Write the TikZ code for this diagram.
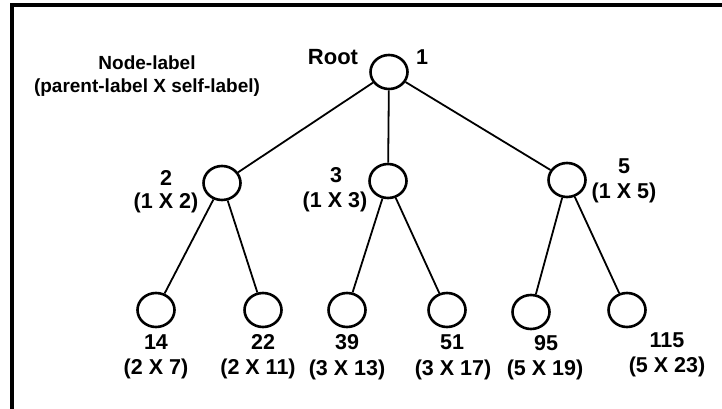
\documentclass[tikz,border=0pt]{standalone}
\usepackage{fontspec}
\setmainfont{Liberation Sans}
\usetikzlibrary{shapes.geometric}

\begin{document}
\begin{tikzpicture}[x=1pt, y={(0pt,-1pt)},
        vert/.style={draw, ellipse, line width=2.6pt, minimum width=37pt, minimum height=34pt, inner sep=0pt},
        lbl/.style={font=\fontsize{21.5}{23}\selectfont\bfseries, inner sep=0pt},
        legend/.style={font=\fontsize{19}{21}\selectfont\bfseries, inner sep=0pt},
        link/.style={line width=1.8pt}]
        % Размер и рамка
        \useasboundingbox (0,0) rectangle (722,409);
        \draw[line width=3.5pt] (12,409) -- (12,5) -- (722,5);

        % Легенда
        \node[legend] (legtop) at (147,63) {Node-label};
        \node[legend] (legbot) at (147,88) {(parent-label X self-label)};

        % Вершины
        \foreach \name/\x/\y in {
            n1/389/72,
            n2/222/183, n3/388/181, n5/567/180,
            n14/156/310, n22/263/310, n39/347/310,
            n51/447/310, n95/531/312, n115/627/310}
        {
            \node[vert] (\name) at (\x,\y) {};
        }

        % Рёбра
        \foreach \a/\b in {n1/n2, n1/n3, n1/n5, n2/n14, n2/n22, n3/n39, n3/n51, n5/n95, n5/n115}
            \draw[link] (\a) -- (\b);

        % Подписи
        \node[lbl, font=\fontsize{22}{24}\selectfont\bfseries] (root) at (333,57) {Root};
        \node[lbl] (t1) at (422,57) {1};
        \foreach \name/\x/\y/\txt in {
            t2/166/178/2, f2/166/203/{(1 X 2)},
            t3/336/175/3, f3/335/202/{(1 X 3)},
            t5/624/166/5, f5/624/193/{(1 X 5)},
            t14/156/342/14, f14/156/369/{(2 X 7)},
            t22/263/342/22, f22/258/369/{(2 X 11)},
            t39/347/342/39, f39/347/370/{(3 X 13)},
            t51/452/342/51, f51/453/370/{(3 X 17)},
            t95/546/343/95, f95/545/370/{(5 X 19)},
            t115/667/340/115, f115/667/367/{(5 X 23)}}
        {
            \node[lbl] (\name) at (\x,\y) {\txt};
        }
\end{tikzpicture}
\end{document}
